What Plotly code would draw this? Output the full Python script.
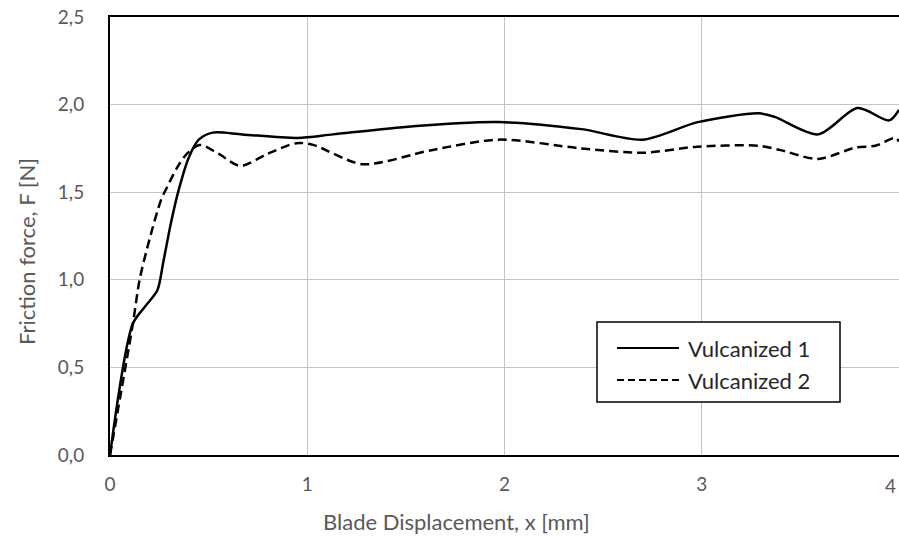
import plotly.graph_objects as go

# Vulcanized 1 (solid)
x1 = [0, 0.116, 0.18, 0.24, 0.27, 0.31, 0.35, 0.40, 0.45, 0.52, 0.67, 0.95, 1.13, 1.47, 1.97,
      2.39, 2.70, 2.98, 3.29, 3.37, 3.59, 3.79, 3.95, 4.0]
y1 = [0, 0.75, 0.85, 0.94, 1.10, 1.33, 1.52, 1.70, 1.80, 1.84, 1.83, 1.81, 1.83, 1.87, 1.90,
      1.86, 1.80, 1.90, 1.95, 1.93, 1.83, 1.98, 1.91, 1.97]

# Vulcanized 2 (dashed)
x2 = [0, 0.116, 0.15, 0.20, 0.26, 0.29, 0.34, 0.39, 0.455, 0.55, 0.66, 0.80, 0.945, 1.03, 1.28,
      1.63, 1.97, 2.39, 2.70, 2.98, 3.29, 3.40, 3.59, 3.78, 3.88, 3.98, 4.0]
y2 = [0, 0.75, 1.0, 1.23, 1.46, 1.53, 1.64, 1.72, 1.77, 1.72, 1.65, 1.72, 1.78, 1.77, 1.66,
      1.74, 1.80, 1.75, 1.725, 1.76, 1.765, 1.74, 1.69, 1.755, 1.765, 1.81, 1.79]

series_names = ["Vulcanized 1", "Vulcanized 2"]
x_ticks = [0, 1, 2, 3, 4]
y_ticks = [0, 0.5, 1.0, 1.5, 2.0, 2.5]
y_tick_labels = ["0,0", "0,5", "1,0", "1,5", "2,0", "2,5"]

FONT = "Lato, 'Open Sans', sans-serif"
GRAY = "#595959"
DASH = "9px,5px"

# plot area geometry (pixels) for converting placement to paper coords
L, R, T, B = 110, 899, 17, 455
def px(xp):
    return (xp - L) / (R - L)
def py(yp):
    return (B - yp) / (B - T)

fig = go.Figure()
fig.add_trace(go.Scatter(x=x1, y=y1, mode="lines", name=series_names[0], showlegend=False,
                         line=dict(color="black", width=2.5, shape="spline", smoothing=0.8)))
fig.add_trace(go.Scatter(x=x2, y=y2, mode="lines", name=series_names[1], showlegend=False,
                         line=dict(color="black", width=2.5, dash=DASH, shape="spline", smoothing=0.8)))

fig.update_layout(
    width=899, height=537,
    margin=dict(l=L, r=899 - R, t=T, b=537 - B),
    paper_bgcolor="white", plot_bgcolor="white",
    font=dict(family=FONT, size=19, color=GRAY),
    xaxis=dict(range=[0, 4], tickvals=x_ticks[:-1], ticktext=[str(v) for v in x_ticks[:-1]],
               showgrid=True, gridcolor="#c4c4c4", gridwidth=1.3,
               showline=True, linecolor="black", linewidth=2, mirror=True,
               zeroline=False, ticks="", ticklabelstandoff=11, automargin=False,
               tickfont=dict(size=19, color=GRAY)),
    yaxis=dict(range=[0, 2.5], tickvals=y_ticks, ticktext=y_tick_labels,
               showgrid=True, gridcolor="#c4c4c4", gridwidth=1.3,
               showline=True, linecolor="black", linewidth=2,
               zeroline=False, ticks="", ticklabelstandoff=20, automargin=False,
               tickfont=dict(size=19, color=GRAY)),
)

# last x tick label at the right edge (kept fully inside the picture)
fig.add_annotation(text=str(x_ticks[-1]), xref="x", yref="paper", x=x_ticks[-1], y=py(485),
                   xanchor="right", yanchor="middle", showarrow=False, xshift=-1,
                   font=dict(family=FONT, size=19, color=GRAY))

# axis titles
fig.add_annotation(text="Blade Displacement, x [mm]", xref="paper", yref="paper",
                   x=px(456), y=py(521), xanchor="center", yanchor="middle",
                   showarrow=False, font=dict(family=FONT, size=22, color=GRAY))
fig.add_annotation(text="Friction force, F [N]", xref="paper", yref="paper",
                   x=px(26), y=py(252), xanchor="center", yanchor="middle",
                   textangle=-90, showarrow=False, font=dict(family=FONT, size=22, color=GRAY))

# legend box
fig.add_shape(type="rect", xref="paper", yref="paper",
              x0=px(597), x1=px(840), y0=py(402), y1=py(322),
              line=dict(color="black", width=1.5), fillcolor="white", layer="above")
legend_rows = [(348, "solid"), (380, "7px,4px")]
for name, (yrow, dash) in zip(series_names, legend_rows):
    fig.add_shape(type="line", xref="paper", yref="paper",
                  x0=px(617), x1=px(679), y0=py(yrow), y1=py(yrow),
                  line=dict(color="black", width=2, dash=dash), layer="above")
    fig.add_annotation(text=name, xref="paper", yref="paper",
                       x=px(686), y=py(yrow), xanchor="left", yanchor="middle",
                       showarrow=False, font=dict(family=FONT, size=22, color="#262626"))

fig.write_html("out.html")
